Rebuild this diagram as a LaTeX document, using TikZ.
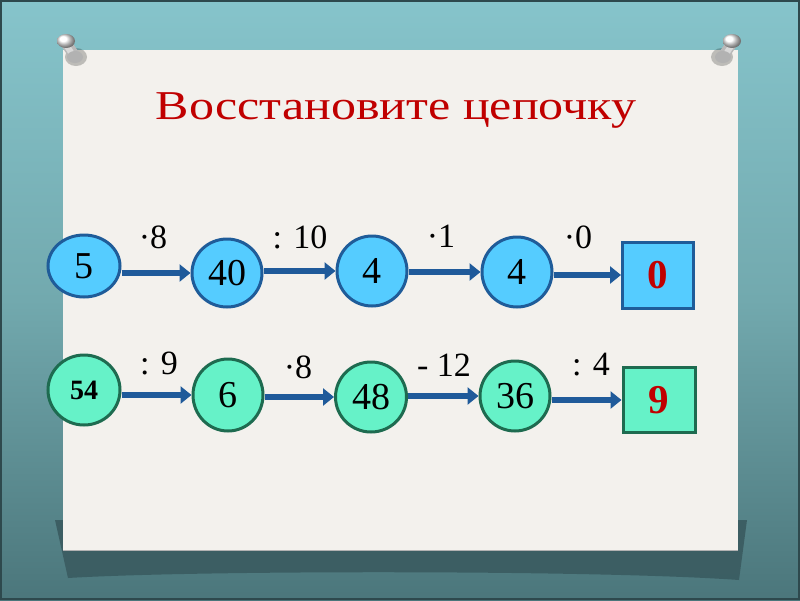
\documentclass[tikz,border=0pt]{standalone}
\usepackage{fontspec}
\setmainfont{Liberation Serif}
\usetikzlibrary{shapes.geometric,arrows.meta}
\definecolor{bgtop}{HTML}{86C4CB}
\definecolor{bgmid}{HTML}{72A9AE}
\definecolor{bgbot}{HTML}{4B767B}
\definecolor{paper}{HTML}{F3F1ED}
\definecolor{titlered}{HTML}{C00000}
\definecolor{bluefill}{HTML}{55CCFF}
\definecolor{blueline}{HTML}{1F5C99}
\definecolor{greenfill}{HTML}{66F2C8}
\definecolor{greenline}{HTML}{1E6B50}
\definecolor{arrowcol}{HTML}{1F5A9A}
\definecolor{shadowcol}{HTML}{3A5B60}
\tikzset{
  bnode/.style={ellipse, draw=blueline, line width=3pt, fill=bluefill, inner sep=0pt, font=\fontsize{38}{38}\selectfont},
  gnode/.style={ellipse, draw=greenline, line width=3pt, fill=greenfill, inner sep=0pt, font=\fontsize{38}{38}\selectfont},
  bbox/.style={rectangle, draw=blueline, line width=3pt, fill=bluefill, minimum width=71pt, minimum height=66pt, inner sep=0pt, text=titlered, font=\fontsize{41}{41}\selectfont\bfseries},
  gbox/.style={rectangle, draw=greenline, line width=3pt, fill=greenfill, minimum width=72pt, minimum height=65pt, inner sep=0pt, text=titlered, font=\fontsize{41}{41}\selectfont\bfseries},
  arr/.style={draw=arrowcol, line width=5.5pt, -{Triangle[length=11pt,width=17pt]}},
  oplabel/.style={font=\fontsize{34}{34}\selectfont, inner sep=0pt},
}
\begin{document}
\begin{tikzpicture}[x=1pt,y=-1pt]
\useasboundingbox (0,0) rectangle (800,600);
% background
\shade[top color=bgtop, bottom color=bgbot, middle color=bgmid] (0,0) rectangle (800,600);
\draw[shadowcol!80!black, line width=2pt] (1,1) rectangle (799,599);
% paper shadow
\fill[shadowcol, opacity=0.9] (55,520) -- (747,520) -- (739,580) .. controls (600,570) and (200,570) .. (68,578) -- cycle;
% paper
\fill[paper] (63,50) rectangle (738,550);
\draw[gray!60, line width=0.6pt] (63,550) -- (738,550);
% pins
\foreach \px/\dir in {66/1, 732/-1}{
  \fill[black, opacity=0.22] (\px+10*\dir,57) ellipse [x radius=11pt, y radius=9pt];
  \draw[line width=11pt, gray!55, line cap=round] (\px,43) -- (\px+8*\dir,55);
  \draw[line width=6pt, gray!30, line cap=round] (\px-1*\dir,43) -- (\px+6*\dir,54);
  \fill[gray!60] (\px+9*\dir,57) ellipse [x radius=8pt, y radius=6pt];
  \shade[ball color=white] (\px,41) ellipse [x radius=9pt, y radius=7pt];
}
% title
\node[text=titlered, font=\fontsize{41}{41}\selectfont, anchor=base] (title) at (396,119) {\scalebox{1.22}[1]{Восстановите цепочку}};
% row 1
\node[bnode, minimum width=72pt, minimum height=62pt] (n5) at (84,266) {5};
\node[bnode, minimum width=70pt, minimum height=68pt] (n40) at (227,273) {40};
\node[bnode, minimum width=70pt, minimum height=70pt] (n4a) at (372,271) {4};
\node[bnode, minimum width=70pt, minimum height=70pt] (n4b) at (517,272) {4};
\node[bbox] (b0) at (658,275) {0};
\draw[arr] (n5.east |- n40.west) -- (n40.west);
\draw[arr] (n40.east |- n4a.west) -- (n4a.west);
\draw[arr] (n4a.east |- n4b.west) -- (n4b.west);
\draw[arr] (n4b.east |- b0.west) -- (b0.west);
\node[oplabel] (l1) at (153,237) {·8};
\node[oplabel] (l2) at (300,237) {: 10};
\node[oplabel] (l3) at (441,236) {·1};
\node[oplabel] (l4) at (578,237) {·0};
% row 2
\node[gnode, minimum width=72pt, minimum height=70pt] (n54) at (84,390) {\fontsize{28}{28}\selectfont\bfseries 54};
\node[gnode, minimum width=70pt, minimum height=72pt] (n6) at (228,395) {6};
\node[gnode, minimum width=71pt, minimum height=70pt] (n48) at (371,397) {48};
\node[gnode, minimum width=70pt, minimum height=70pt] (n36) at (515,396) {36};
\node[gbox] (b9) at (659,400) {9};
\draw[arr] (n54.east |- n6.west) -- (n6.west);
\draw[arr] (n6.east |- n48.west) -- (n48.west);
\draw[arr] (n48.east |- n36.west) -- (n36.west);
\draw[arr] (n36.east |- b9.west) -- (b9.west);
\node[oplabel] (m1) at (159,363) {: 9};
\node[oplabel] (m2) at (298,367) {·8};
\node[oplabel] (m3) at (444,365) {- 12};
\node[oplabel] (m4) at (591,365) {: 4};
\end{tikzpicture}
\end{document}
